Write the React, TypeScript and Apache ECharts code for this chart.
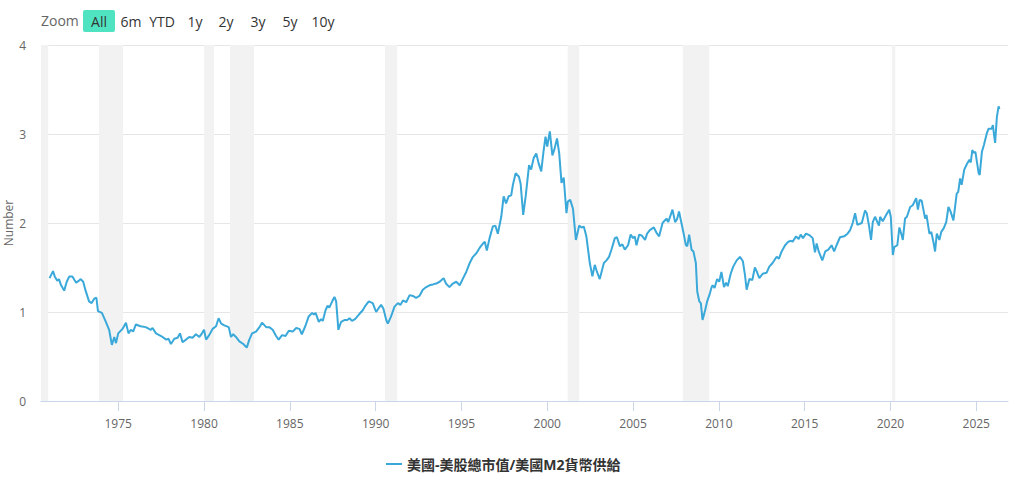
import React, { useEffect, useRef } from "react";
import * as echarts from "echarts";

const seriesName = "美國-美股總市值/美國M2貨幣供給";
const yAxisTitle = "Number";

const years = [
  1971.0, 1971.1, 1971.2, 1971.3, 1971.45, 1971.55, 1971.65, 1971.85, 1972.0, 1972.15,
  1972.33, 1972.45, 1972.55, 1972.7, 1972.8, 1972.96, 1973.1, 1973.3, 1973.45, 1973.6,
  1973.73, 1973.82, 1974.05, 1974.28, 1974.47, 1974.63, 1974.77, 1974.87, 1975.0, 1975.25,
  1975.45, 1975.6, 1975.74, 1975.87, 1976.03, 1976.3, 1976.6, 1976.9, 1977.0, 1977.2,
  1977.5, 1977.8, 1977.93, 1978.07, 1978.27, 1978.46, 1978.6, 1978.75, 1978.95, 1979.14,
  1979.33, 1979.53, 1979.73, 1979.88, 1980.0, 1980.12, 1980.3, 1980.5, 1980.7, 1980.85,
  1981.0, 1981.18, 1981.44, 1981.57, 1981.7, 1981.86, 1982.06, 1982.29, 1982.49, 1982.64,
  1982.8, 1983.03, 1983.23, 1983.38, 1983.62, 1983.8, 1984.0, 1984.2, 1984.35, 1984.55,
  1984.75, 1984.94, 1985.17, 1985.37, 1985.56, 1985.7, 1985.9, 1986.1, 1986.3, 1986.4,
  1986.5, 1986.69, 1986.82, 1986.92, 1987.08, 1987.2, 1987.3, 1987.47, 1987.6, 1987.7,
  1987.83, 1987.99, 1988.18, 1988.35, 1988.48, 1988.62, 1988.8, 1989.06, 1989.25, 1989.4,
  1989.6, 1989.83, 1990.03, 1990.2, 1990.32, 1990.45, 1990.62, 1990.71, 1990.9, 1991.1,
  1991.3, 1991.45, 1991.59, 1991.78, 1991.98, 1992.17, 1992.36, 1992.55, 1992.75, 1992.95,
  1993.14, 1993.34, 1993.53, 1993.73, 1993.96, 1994.1, 1994.3, 1994.5, 1994.7, 1994.9,
  1995.1, 1995.28, 1995.48, 1995.67, 1995.87, 1996.06, 1996.26, 1996.36, 1996.48, 1996.64,
  1996.83, 1996.98, 1997.12, 1997.32, 1997.46, 1997.6, 1997.75, 1997.9, 1998.0, 1998.16,
  1998.35, 1998.45, 1998.6, 1998.75, 1998.94, 1999.06, 1999.21, 1999.36, 1999.5, 1999.65,
  1999.78, 1999.9, 2000.0, 2000.15, 2000.3, 2000.42, 2000.57, 2000.7, 2000.83, 2000.96,
  2001.12, 2001.2, 2001.34, 2001.5, 2001.67, 2001.86, 2002.0, 2002.13, 2002.28, 2002.48,
  2002.63, 2002.77, 2002.9, 2003.06, 2003.3, 2003.45, 2003.6, 2003.74, 2003.94, 2004.06,
  2004.23, 2004.38, 2004.52, 2004.71, 2004.86, 2005.0, 2005.1, 2005.2, 2005.36, 2005.5,
  2005.7, 2005.82, 2005.98, 2006.21, 2006.4, 2006.52, 2006.72, 2006.95, 2007.05, 2007.3,
  2007.45, 2007.56, 2007.68, 2007.82, 2007.96, 2008.08, 2008.16, 2008.27, 2008.41, 2008.52,
  2008.66, 2008.74, 2008.86, 2008.95, 2009.05, 2009.2, 2009.32, 2009.48, 2009.58, 2009.64,
  2009.75, 2009.9, 2010.02, 2010.15, 2010.3, 2010.42, 2010.52, 2010.69, 2010.84, 2011.04,
  2011.23, 2011.4, 2011.52, 2011.62, 2011.78, 2011.95, 2012.1, 2012.2, 2012.36, 2012.55,
  2012.78, 2012.94, 2013.13, 2013.37, 2013.5, 2013.66, 2013.86, 2014.05, 2014.2, 2014.3,
  2014.5, 2014.65, 2014.77, 2014.9, 2015.08, 2015.3, 2015.47, 2015.6, 2015.7, 2015.82,
  2016.03, 2016.2, 2016.38, 2016.57, 2016.72, 2016.86, 2017.06, 2017.3, 2017.5, 2017.65,
  2017.8, 2017.94, 2018.07, 2018.33, 2018.52, 2018.62, 2018.75, 2018.87, 2018.97, 2019.1,
  2019.33, 2019.4, 2019.55, 2019.78, 2019.93, 2020.02, 2020.14, 2020.22, 2020.4, 2020.52,
  2020.66, 2020.72, 2020.85, 2020.96, 2021.15, 2021.3, 2021.5, 2021.6, 2021.7, 2021.82,
  2021.9, 2022.02, 2022.1, 2022.27, 2022.38, 2022.5, 2022.6, 2022.7, 2022.85, 2022.96,
  2023.1, 2023.25, 2023.38, 2023.5, 2023.67, 2023.86, 2023.95, 2024.06, 2024.15, 2024.3,
  2024.45, 2024.6, 2024.68, 2024.77, 2024.85, 2024.95, 2025.14, 2025.2, 2025.33, 2025.45,
  2025.62, 2025.72, 2025.9, 2025.97, 2026.03, 2026.1, 2026.2, 2026.3, 2026.35,
];

const ratios = [
  1.38, 1.42, 1.46, 1.4, 1.35, 1.37, 1.31, 1.24, 1.34, 1.4,
  1.4, 1.36, 1.33, 1.35, 1.37, 1.34, 1.24, 1.12, 1.1, 1.15,
  1.16, 1.01, 0.99, 0.89, 0.8, 0.63, 0.72, 0.65, 0.76, 0.81,
  0.88, 0.76, 0.8, 0.78, 0.86, 0.84, 0.83, 0.8, 0.82, 0.76,
  0.73, 0.69, 0.7, 0.64, 0.7, 0.71, 0.76, 0.66, 0.69, 0.72,
  0.71, 0.75, 0.72, 0.76, 0.8, 0.69, 0.74, 0.81, 0.84, 0.93,
  0.87, 0.85, 0.83, 0.72, 0.75, 0.72, 0.67, 0.64, 0.6, 0.69,
  0.76, 0.78, 0.83, 0.88, 0.83, 0.83, 0.8, 0.73, 0.69, 0.74,
  0.73, 0.79, 0.78, 0.82, 0.81, 0.75, 0.84, 0.95, 0.99, 0.97,
  0.99, 0.89, 0.92, 0.9, 1.02, 1.07, 1.05, 1.12, 1.17, 1.12,
  0.8, 0.89, 0.91, 0.91, 0.93, 0.9, 0.92, 0.98, 1.02, 1.07,
  1.12, 1.1, 1.0, 1.05, 1.08, 1.04, 0.91, 0.87, 0.95, 1.06,
  1.1, 1.08, 1.13, 1.11, 1.19, 1.18, 1.16, 1.18, 1.25, 1.28,
  1.3, 1.31, 1.32, 1.34, 1.38, 1.32, 1.28, 1.32, 1.34, 1.3,
  1.38, 1.45, 1.55, 1.62, 1.66, 1.72, 1.77, 1.79, 1.69, 1.83,
  1.96, 1.97, 1.88, 2.07, 2.3, 2.22, 2.3, 2.31, 2.43, 2.56,
  2.52, 2.44, 2.09, 2.31, 2.65, 2.6, 2.73, 2.78, 2.67, 2.58,
  2.8, 2.97, 2.86, 3.03, 2.76, 2.83, 2.95, 2.78, 2.45, 2.51,
  2.11, 2.24, 2.26, 2.16, 1.81, 1.97, 1.95, 1.96, 1.85, 1.55,
  1.4, 1.53, 1.45, 1.37, 1.55, 1.58, 1.62, 1.7, 1.83, 1.84,
  1.74, 1.76, 1.7, 1.75, 1.87, 1.83, 1.85, 1.75, 1.87, 1.86,
  1.81, 1.88, 1.92, 1.95, 1.88, 1.85, 2.0, 2.05, 2.01, 2.15,
  2.01, 2.04, 2.13, 2.0, 1.87, 1.75, 1.74, 1.87, 1.7, 1.68,
  1.55, 1.23, 1.12, 1.1, 0.91, 1.02, 1.12, 1.21, 1.28, 1.3,
  1.27, 1.37, 1.34, 1.45, 1.28, 1.33, 1.29, 1.43, 1.51, 1.58,
  1.62, 1.57, 1.42, 1.25, 1.37, 1.36, 1.5, 1.46, 1.38, 1.43,
  1.44, 1.51, 1.55, 1.62, 1.6, 1.68, 1.75, 1.79, 1.8, 1.79,
  1.85, 1.82, 1.87, 1.83, 1.88, 1.86, 1.83, 1.67, 1.77, 1.68,
  1.58, 1.68, 1.7, 1.75, 1.68, 1.75, 1.84, 1.85, 1.88, 1.92,
  2.0, 2.11, 1.98, 2.0, 2.14, 2.11, 1.97, 1.81, 2.01, 2.07,
  1.97, 2.07, 2.02, 2.1, 2.15, 2.07, 1.64, 1.73, 1.75, 1.95,
  1.86, 1.81, 2.05, 2.07, 2.18, 2.2, 2.28, 2.15, 2.26, 2.25,
  2.17, 2.05, 2.09, 1.88, 1.9, 1.79, 1.68, 1.88, 1.81, 1.9,
  1.94, 2.01, 2.18, 2.13, 2.03, 2.33, 2.35, 2.5, 2.43, 2.6,
  2.66, 2.71, 2.68, 2.82, 2.79, 2.8, 2.56, 2.54, 2.8, 2.88,
  3.01, 3.06, 3.06, 3.1, 3.0, 2.9, 3.19, 3.31, 3.28,
];

const recessionStarts = [1970.5, 1973.88, 1980.01, 1981.51, 1990.54, 2001.19, 2007.9, 2020.09];
const recessionEnds = [1970.92, 1975.28, 1980.58, 1982.92, 1991.25, 2001.87, 2009.44, 2020.28];

const xTickYears = [1975, 1980, 1985, 1990, 1995, 2000, 2005, 2010, 2015, 2020, 2025];
const zoomButtons = ["All", "6m", "YTD", "1y", "2y", "3y", "5y", "10y"];
const zoomButtonCenters = [99, 131, 162, 195, 226, 258, 290, 323];

const FONT = "'Open Sans', 'Noto Sans CJK TC', sans-serif";

export default function App() {
  const ref = useRef<HTMLDivElement>(null);

  useEffect(() => {
    if (!ref.current) return;
    const chart = echarts.init(ref.current, null, { renderer: "svg" });

    const data = years.map((y, i) => [y, ratios[i]]);
    const bands = recessionStarts.map((s, i) => [{ xAxis: s }, { xAxis: recessionEnds[i] }]);

    const graphics: any[] = [
      {
        type: "text",
        left: 41,
        top: 13,
        style: { text: "Zoom", fontSize: 14, fill: "#666", fontFamily: FONT },
      },
      {
        type: "rect",
        shape: { x: 83, y: 10, width: 32, height: 22, r: 2 },
        style: { fill: "#50e3c2" },
      },
      {
        type: "text",
        x: 8,
        y: 223,
        rotation: Math.PI / 2,
        style: {
          text: yAxisTitle,
          fontSize: 12,
          fill: "#666",
          fontFamily: FONT,
          align: "center",
          verticalAlign: "middle",
        },
      },
    ];
    zoomButtons.forEach((label, i) => {
      graphics.push({
        type: "text",
        x: zoomButtonCenters[i],
        y: 21,
        style: {
          text: label,
          fontSize: 14,
          fill: "#333",
          fontFamily: FONT,
          align: "center",
          verticalAlign: "middle",
        },
      });
    });

    chart.setOption({
      animation: false,
      textStyle: { fontFamily: FONT },
      grid: { left: 41, right: 8, top: 45, bottom: 95, containLabel: false, outerBoundsMode: "none" },
      graphic: graphics,
      legend: {
        left: 381,
        top: 452,
        icon: "rect",
        itemWidth: 16,
        itemHeight: 2,
        textStyle: { fontSize: 14, color: "#333", fontWeight: "bold", fontFamily: FONT },
        data: [seriesName],
      },
      xAxis: {
        type: "value",
        min: 1970.5,
        max: 2026.85,
        axisLine: { lineStyle: { color: "#ccd6eb" } },
        axisTick: {
          show: true,
          length: 10,
          lineStyle: { color: "#ccd6eb" },
          customValues: xTickYears,
        },
        axisLabel: {
          color: "#666",
          fontSize: 12,
          margin: 16,
          customValues: xTickYears,
          formatter: (v: number) => String(Math.round(v)),
        },
        splitLine: { show: false },
      },
      yAxis: {
        type: "value",
        min: 0,
        max: 4,
        interval: 1,
        axisLine: { show: false },
        axisTick: { show: false },
        axisLabel: { color: "#666", fontSize: 12, margin: 15 },
        splitLine: { lineStyle: { color: "#e6e6e6" } },
      },
      series: [
        {
          name: seriesName,
          type: "line",
          data,
          showSymbol: false,
          symbol: "none",
          lineStyle: { color: "#3aa9da", width: 2 },
          itemStyle: { color: "#3aa9da" },
          markArea: {
            silent: true,
            itemStyle: { color: "#f2f2f2" },
            data: bands,
          },
        },
      ],
    });

    return () => chart.dispose();
  }, []);

  return (
    <div
      ref={ref}
      style={{ position: "fixed", left: 0, top: 0, width: 1016, height: 496, background: "#fff" }}
    />
  );
}
